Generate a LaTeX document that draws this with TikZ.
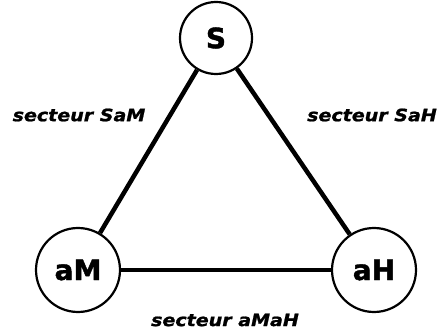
\documentclass[tikz,border=0pt]{standalone}
\usepackage{fontspec}
\setmainfont{DejaVu Sans}
\usetikzlibrary{positioning}
\tikzset{
  sommet/.style={
    draw, circle, line width=2.2pt, minimum size=84pt, inner sep=0pt,
    font=\fontsize{28}{30}\selectfont\bfseries\addfontfeature{FakeBold=1.5}
  },
  sommetS/.style={sommet, minimum size=72pt},
  arete/.style={line width=4.5pt},
  secteur/.style={
    font=\fontsize{17}{19}\selectfont\bfseries\itshape\addfontfeature{FakeStretch=1.12,FakeBold=1.2}
  }
}
\begin{document}
\begin{tikzpicture}[x=1pt, y=-1pt]
  \useasboundingbox (0,0) rectangle (439,331);
  \node[sommetS] (s)  at (216,38)  {S};
  \node[sommet]  (am) at (78,270)  {aM};
  \node[sommet]  (ah) at (374,270) {aH};

  \draw[arete] (s) -- (am);
  \draw[arete] (s) -- (ah);
  \draw[arete] (am) -- (ah);

  \node[secteur] (lsam)  at (79,115)  {secteur SaM};
  \node[secteur] (lsah)  at (372,115) {secteur SaH};
  \node[secteur] (lamah) at (225,320) {secteur aMaH};
\end{tikzpicture}
\end{document}
